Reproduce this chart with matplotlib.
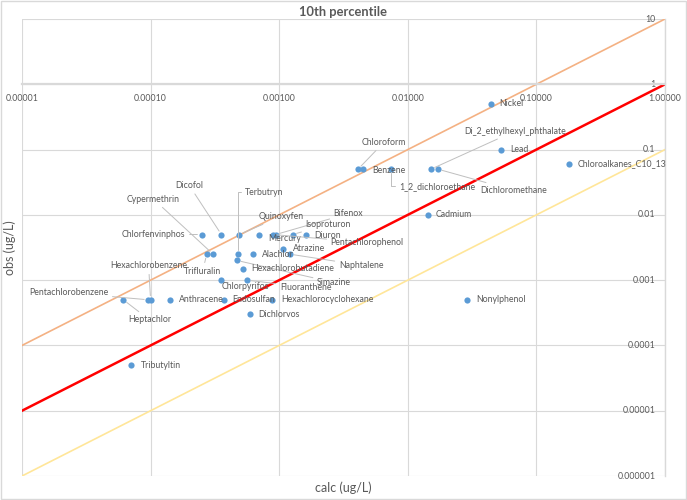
import matplotlib.pyplot as plt
from matplotlib.patches import Rectangle
from matplotlib.ticker import FixedLocator, FixedFormatter, NullLocator

# datos (calc, obs) en ug/L
nombres = ['Nickel', 'Lead', 'Chloroalkanes_C10_13', 'Di_2_ethylhexyl_phthalate',
           'Dichloromethane', 'Chloroform', 'Benzene', '1_2_dichloroethane', 'Cadmium',
           'Nonylphenol', 'Tributyltin', 'Chlorfenvinphos', 'Dicofol', 'Quinoxyfen',
           'Mercury', 'Pentachlorophenol', 'Bifenox', 'Isoproturon', 'Diuron',
           'Trifluralin', 'Cypermethrin', 'Terbutryn', 'Alachlor', 'Atrazine',
           'Naphtalene', 'Simazine', 'Hexachlorobutadiene', 'Chlorpyrifos',
           'Fluoranthene', 'Heptachlor', 'Pentachlorobenzene', 'Hexachlorobenzene',
           'Anthracene', 'Endosulfan', 'Hexachlorocyclohexane', 'Dichlorvos']
calc = [0.044, 0.053, 0.18, 0.0151,
        0.0172, 0.0041, 0.0045, 0.0074, 0.0143,
        0.029, 0.000071, 0.000249, 0.000355, 0.00049,
        0.0007, 0.00089, 0.00094, 0.00127, 0.00161,
        0.000273, 0.000306, 0.00048, 0.00062, 0.00107,
        0.00121, 0.00047, 0.00052, 0.00035,
        0.00056, 0.0000614, 0.000096, 0.0001,
        0.000141, 0.00037, 0.00088, 0.00059]
obs = [0.5, 0.1, 0.06, 0.05,
       0.05, 0.05, 0.05, 0.05, 0.01,
       0.0005, 0.00005, 0.005, 0.005, 0.005,
       0.005, 0.005, 0.005, 0.005, 0.005,
       0.0025, 0.0025, 0.0025, 0.0025, 0.003,
       0.0025, 0.002, 0.0015, 0.001,
       0.001, 0.0005, 0.0005, 0.0005,
       0.0005, 0.0005, 0.0005, 0.0003]

# lineas de referencia
x_lineas = [0.00001, 1]
factores = [10, 1, 0.1]

x_ticks = [0.00001, 0.0001, 0.001, 0.01, 0.1, 1]
x_etiquetas = ['0.00001', '0.00010', '0.00100', '0.01000', '0.10000', '1.00000']
y_ticks = [0.000001, 0.00001, 0.0001, 0.001, 0.01, 0.1, 1, 10]
y_etiquetas = ['0.000001', '0.00001', '0.0001', '0.001', '0.01', '0.1', '1', '10']

# posicion de cada etiqueta (pixeles desde el punto), alineacion, linea guia
pos_etiquetas = {
    'Nickel': (9, 0, 'left', None),
    'Lead': (9, 0, 'left', None),
    'Chloroalkanes_C10_13': (8, 0, 'left', None),
    'Di_2_ethylhexyl_phthalate': (33, 38, 'left', 'recta'),
    'Dichloromethane': (42, -21, 'left', 'recta'),
    'Chloroform': (26, 27, 'center', 'recta'),
    'Benzene': (9, -1, 'left', None),
    '1_2_dichloroethane': (8, -17, 'left', 'codo'),
    'Cadmium': (8, 0, 'left', None),
    'Nonylphenol': (9, 0, 'left', None),
    'Tributyltin': (9, 0, 'left', None),
    'Chlorfenvinphos': (-16, 0, 'right', 'recta'),
    'Dicofol': (-18, 49, 'right', 'recta'),
    'Quinoxyfen': (19, 18, 'left', 'recta'),
    'Mercury': (9, -4, 'left', None),
    'Pentachlorophenol': (58, -8, 'left', 'recta'),
    'Bifenox': (58, 21, 'left', 'recta'),
    'Isoproturon': (13, 10, 'left', 'recta'),
    'Diuron': (8, -1, 'left', None),
    'Trifluralin': (-4, -17, 'center', 'recta'),
    'Cypermethrin': (-33, 55, 'right', 'recta'),
    'Terbutryn': (7, 62, 'left', 'codo'),
    'Alachlor': (9, 0, 'left', None),
    'Atrazine': (10, 0, 'left', None),
    'Naphtalene': (49, -11, 'left', 'recta'),
    'Simazine': (80, -22, 'left', 'recta'),
    'Hexachlorobutadiene': (9, 0, 'left', None),
    'Chlorpyrifos': (25, -6, 'center', None),
    'Fluoranthene': (33, -7, 'left', 'recta'),
    'Heptachlor': (26, -20, 'center', 'recta'),
    'Pentachlorobenzene': (-40, 7, 'right', 'recta'),
    'Hexachlorobenzene': (-2, 34, 'center', 'recta'),
    'Anthracene': (9, 0, 'left', None),
    'Endosulfan': (9, 0, 'left', None),
    'Hexachlorocyclohexane': (9, 0, 'left', None),
    'Dichlorvos': (9, 0, 'left', None),
}

gris_texto = '#595959'
gris_grilla = '#d9d9d9'
plt.rcParams['font.family'] = ['Lato', 'DejaVu Sans']

fig = plt.figure(figsize=(6.87, 5.0), dpi=100)
fig.patches.append(Rectangle((0.002, 0.002), 0.996, 0.996, transform=fig.transFigure,
                             fill=False, edgecolor=gris_grilla, lw=1))
ax = fig.add_axes([22 / 687, 1 - 476 / 500, (665 - 22) / 687, (476 - 19) / 500])

ax.set_xscale('log')
ax.set_yscale('log')
ax.set_xlim(0.00001, 1)
ax.set_ylim(0.000001, 10)

# grilla
ax.xaxis.set_major_locator(FixedLocator(x_ticks))
ax.xaxis.set_major_formatter(FixedFormatter(x_etiquetas))
ax.yaxis.set_major_locator(FixedLocator(y_ticks))
ax.yaxis.set_major_formatter(FixedFormatter(y_etiquetas))
ax.xaxis.set_minor_locator(NullLocator())
ax.yaxis.set_minor_locator(NullLocator())
ax.grid(True, color=gris_grilla, lw=0.8)
ax.set_axisbelow(True)

# ejes cruzando en y=1 y x=1
for lado in ['top', 'right']:
    ax.spines[lado].set_visible(False)
ax.spines['bottom'].set_position(('data', 1))
ax.spines['left'].set_position(('data', 1))
ax.spines['bottom'].set_color(gris_grilla)
ax.spines['bottom'].set_linewidth(1.6)
ax.spines['left'].set_color(gris_grilla)
ax.spines['left'].set_linewidth(1.0)
ax.tick_params(axis='both', length=0, labelsize=6.3, colors=gris_texto)
ax.tick_params(axis='x', pad=7)
ax.tick_params(axis='y', pad=7)
for t in ax.get_yticklabels():
    t.set_verticalalignment('center')

# lineas 10x, 1x, 0.1x
colores = ['#f4b183', '#ff0000', '#ffe699']
anchos = [1.2, 1.8, 1.2]
for f, c, w in zip(factores, colores, anchos):
    ax.plot(x_lineas, [f * v for v in x_lineas], color=c, lw=w, zorder=2)

ax.scatter(calc, obs, s=20, color='#5b9bd5', zorder=4, linewidths=0)

for nombre, xv, yv in zip(nombres, calc, obs):
    dx, dy, ha, guia = pos_etiquetas[nombre]
    flecha = None
    if guia == 'recta':
        flecha = dict(arrowstyle='-', color='#bfbfbf', lw=0.7, shrinkA=1, shrinkB=3)
    elif guia == 'codo':
        flecha = dict(arrowstyle='-', color='#bfbfbf', lw=0.7, shrinkA=1, shrinkB=3,
                      connectionstyle='angle,angleA=0,angleB=90,rad=0')
    ax.annotate(nombre, (xv, yv), xytext=(dx, dy), textcoords='offset pixels',
                ha=ha, va='center', fontsize=6.3, color=gris_texto,
                arrowprops=flecha, zorder=5)

fig.text(343 / 687, 1 - 12 / 500, '10th percentile', ha='center', va='center',
         fontsize=9.3, fontweight='bold', color=gris_texto)
fig.text(343 / 687, 1 - 488 / 500, 'calc (ug/L)', ha='center', va='center',
         fontsize=9, color=gris_texto)
fig.text(10 / 687, 1 - 248 / 500, 'obs (ug/L)', ha='center', va='center',
         fontsize=9, color=gris_texto, rotation=90)

fig.savefig('out.png', dpi=100)
